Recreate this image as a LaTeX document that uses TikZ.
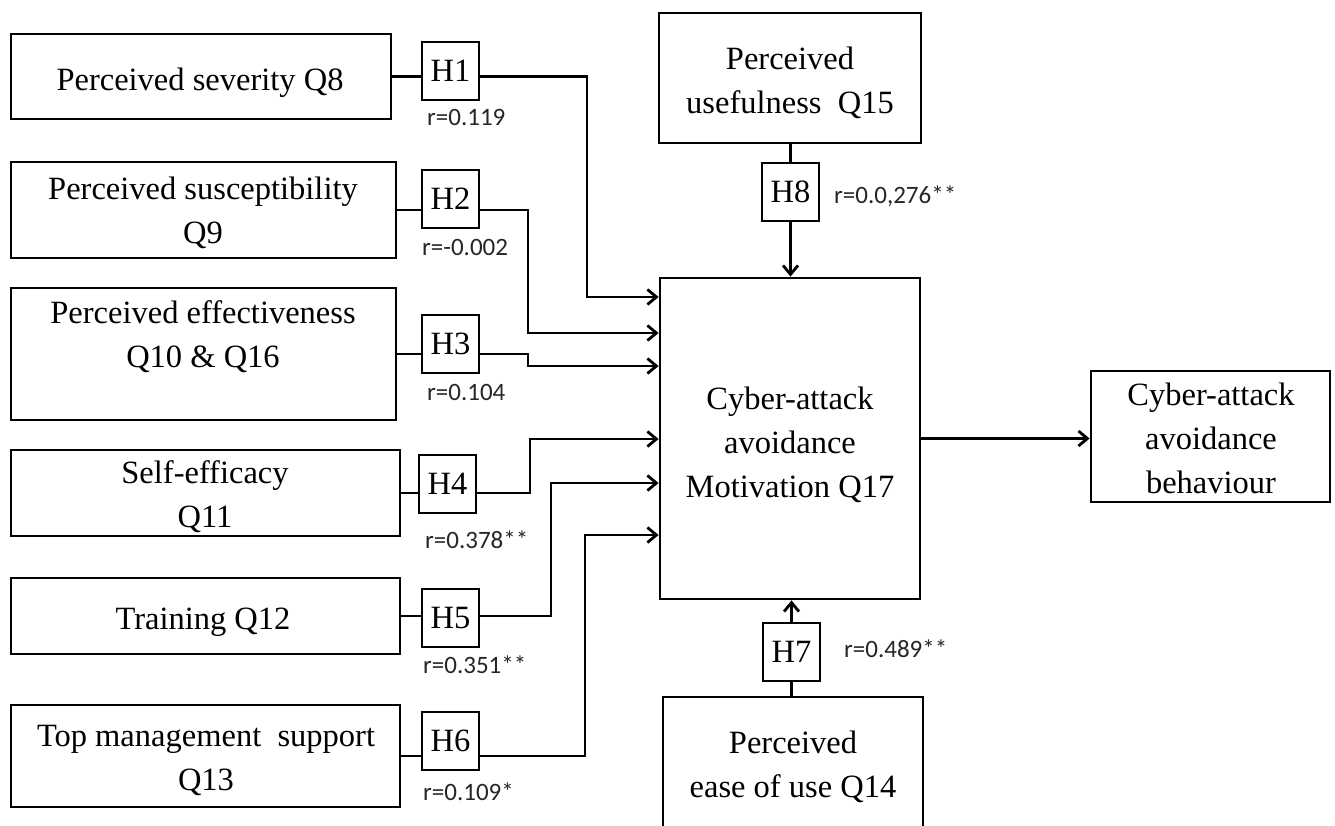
\documentclass[tikz,border=0pt]{standalone}
\usepackage{fontspec}
\setmainfont{Liberation Serif}
\newfontfamily\lblfont{Carlito}
\usetikzlibrary{arrows.meta}
\begin{document}
\begin{tikzpicture}[x=1pt,y=-1pt,
  box/.style={draw, line width=2.8pt, inner sep=0pt, anchor=center},
  hbox/.style={draw, line width=2pt, inner sep=0pt, minimum width=57pt, minimum height=58pt, font=\fontsize{32.5}{40}\selectfont},
  txt/.style={align=center, inner sep=0pt, anchor=base, font=\fontsize{32.5}{44}\selectfont},
  rlbl/.style={inner sep=0pt, anchor=base west, text=black!85, font=\lblfont\fontsize{25}{30}\selectfont},
  conn/.style={line width=2.8pt},
  arr/.style={conn, -{Straight Barb[length=9pt,width=15pt]}},
]
\useasboundingbox (0,0) rectangle (1335,825);
\fill[white] (0,0) rectangle (1335,825);

% left boxes
\node[box, minimum width=380pt, minimum height=85pt] (b1) at (201,76.5) {};
\node[box, minimum width=385pt, minimum height=96pt] (b2) at (203.5,210) {};
\node[box, minimum width=385pt, minimum height=132pt] (b3) at (203.5,354) {};
\node[box, minimum width=389pt, minimum height=86pt] (b4) at (205.5,493) {};
\node[box, minimum width=389pt, minimum height=76pt] (b5) at (205.5,616) {};
\node[box, minimum width=389pt, minimum height=102pt] (b6) at (205.5,756) {};

% (base anchor = baseline of the last line)
\node[txt] (t1) at (200,90) {Perceived severity Q8};
\node[txt] (t2) at (203,243) {Perceived susceptibility\\Q9};
\node[txt] (t3) at (203,367) {Perceived effectiveness\\Q10 \& Q16};
\node[txt] (t4) at (205,527) {Self-efficacy\\Q11};
\node[txt] (t5) at (203,629) {Training Q12};
\node[txt] (t6) at (206,790) {Top management\ \ support\\Q13};

% right boxes
\node[box, minimum width=262pt, minimum height=130pt] (useful) at (790,78) {};
\node[box, minimum width=260pt, minimum height=321pt] (main) at (790,438.5) {};
\node[box, minimum width=239pt, minimum height=131pt] (behav) at (1210.5,436.5) {};
\node[box, minimum width=260pt, minimum height=138pt] (ease) at (793,766) {};

\node[txt] (tu) at (790,113) {Perceived\\usefulness\ \ Q15};
\node[txt] (tm) at (790,497) {Cyber-attack\\avoidance\\Motivation Q17};
\node[txt] (tb) at (1211,493) {Cyber-attack\\avoidance\\behaviour};
\node[txt] (te) at (793,797) {Perceived\\ease of use Q14};

% hypothesis boxes
\node[hbox] (h1) at (450.5,71) {H1};
\node[hbox] (h2) at (450.5,198.5) {H2};
\node[hbox] (h3) at (450.5,344) {H3};
\node[hbox] (h4) at (447.5,484) {H4};
\node[hbox] (h5) at (450.5,618) {H5};
\node[hbox] (h6) at (450.5,740.5) {H6};
\node[hbox] (h8) at (790.5,192) {H8};
\node[hbox] (h7) at (791.5,652) {H7};

% r labels
\node[rlbl] (r1) at (427,125) {r=0.119};
\node[rlbl] (r2) at (422,255) {r=-0.002};
\node[rlbl] (r3) at (427,400) {r=0.104};
\node[rlbl] (r4) at (425,548) {r=0.378**};
\node[rlbl] (r5) at (423,673) {r=0.351**};
\node[rlbl] (r6) at (423,800) {r=0.109*};
\node[rlbl] (r8) at (834,203) {r=0.0,276**};
\node[rlbl] (r7) at (844,657) {r=0.489**};

% connectors
\draw[conn] (b1.east) -- (b1.east -| h1.west);
\draw[arr] (h1.east |- b1.east) -- (587,76.5) |- (main.west |- 0,297);
\draw[conn] (b2.east) -- (b2.east -| h2.west);
\draw[arr] (h2.east |- b2.east) -- (528,210) |- (main.west |- 0,333);
\draw[conn] (b3.east) -- (b3.east -| h3.west);
\draw[arr] (h3.east |- b3.east) -- (528,354) |- (main.west |- 0,366);
\draw[conn] (b4.east) -- (b4.east -| h4.west);
\draw[arr] (h4.east |- b4.east) -- (530,493) |- (main.west |- 0,439);
\draw[conn] (b5.east) -- (b5.east -| h5.west);
\draw[arr] (h5.east |- b5.east) -- (551,616) |- (main.west |- 0,483);
\draw[conn] (b6.east) -- (b6.east -| h6.west);
\draw[arr] (h6.east |- b6.east) -- (585,756) |- (main.west |- 0,535);

\draw[conn] (useful.south -| h8.north) -- (h8.north);
\draw[arr] (h8.south) -- (h8.south |- main.north);
\draw[conn] (ease.north -| h7.south) -- (h7.south);
\draw[arr] (h7.north) -- (h7.north |- main.south);
\draw[arr] (main.east) -- (main.east -| behav.west);
\end{tikzpicture}
\end{document}
